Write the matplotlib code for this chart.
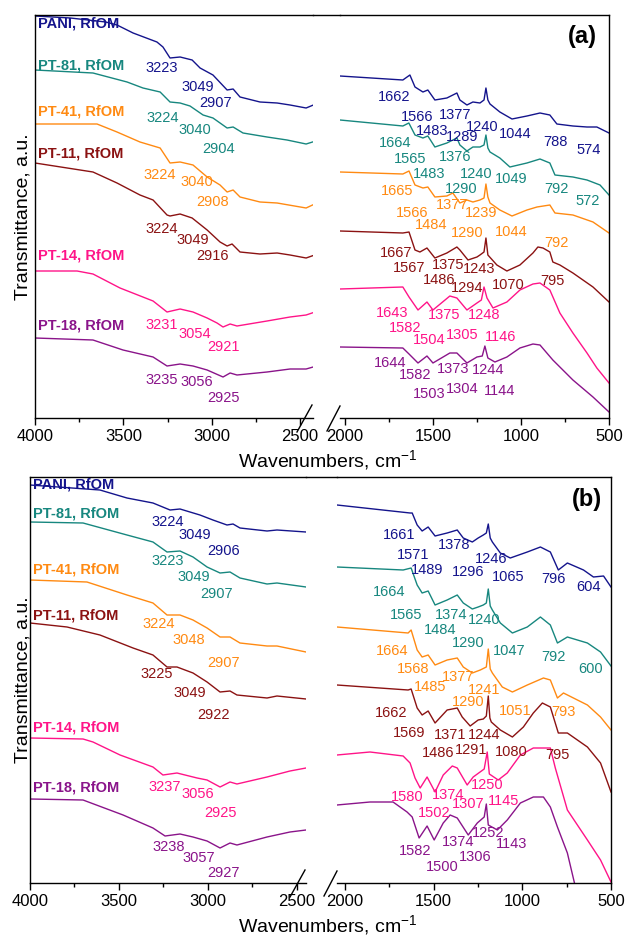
import matplotlib
matplotlib.use('Agg')
import matplotlib.pyplot as plt
from matplotlib.lines import Line2D
from matplotlib.ticker import MultipleLocator

plt.rcParams['font.family'] = ['Liberation Sans', 'DejaVu Sans']
plt.rcParams['mathtext.default'] = 'regular'

samples = ['PANI, RfOM', 'PT-81, RfOM', 'PT-41, RfOM', 'PT-11, RfOM', 'PT-14, RfOM', 'PT-18, RfOM']
colors = ['#14148c', '#17877f', '#ff8a12', '#8b1212', '#ff1488', '#8a148a']

# ---- (a) spectra: wavenumber (cm-1) and offset transmittance (a.u.)
wn_a_pani = [4000, 3800, 3600, 3536, 3445, 3310, 3276, 3236, 3179, 3111, 3066, 2993, 2913, 2879, 2840, 2727, 2630, 2557, 2466,
             2028, 1671, 1631, 1602, 1557, 1529, 1489, 1421, 1364, 1347, 1307, 1273, 1233, 1210, 1199, 1188, 1176, 1120, 1051, 966, 892, 836, 796, 705, 625, 569, 500]
t_a_pani = [402, 400, 396, 393, 385, 376, 371, 360, 361, 358, 350, 343, 328, 329, 321, 316, 315, 313, 310,
            342, 338, 343, 331, 326, 328, 318, 320, 325, 318, 313, 316, 315, 318, 330, 318, 314, 306, 299, 302, 305, 303, 294, 292, 291, 291, 285]

wn_a_81 = [4000, 3672, 3479, 3389, 3292, 3236, 3179, 3123, 3049, 2993, 2913, 2879, 2823, 2687, 2574, 2466,
           2028, 1671, 1637, 1602, 1557, 1529, 1489, 1421, 1364, 1347, 1307, 1273, 1233, 1210, 1199, 1188, 1176, 1120, 1063, 966, 892, 836, 807, 705, 625, 551, 500]
t_a_81 = [348, 345, 336, 330, 326, 316, 315, 312, 303, 300, 290, 291, 285, 281, 278, 274,
          298, 292, 295, 283, 280, 282, 271, 275, 280, 273, 267, 271, 271, 273, 283, 270, 266, 260, 251, 255, 259, 255, 243, 241, 238, 233, 223]

wn_a_41 = [4000, 3649, 3536, 3406, 3292, 3236, 3179, 3106, 3026, 2953, 2913, 2879, 2840, 2727, 2630, 2466,
           2028, 1671, 1636, 1602, 1557, 1529, 1489, 1421, 1387, 1347, 1307, 1273, 1233, 1210, 1199, 1188, 1176, 1120, 1051, 966, 909, 836, 807, 705, 591, 500]
t_a_41 = [294, 294, 286, 276, 270, 255, 256, 253, 241, 233, 226, 228, 221, 216, 215, 210,
          246, 244, 247, 233, 230, 231, 221, 222, 225, 215, 218, 216, 218, 220, 234, 221, 215, 208, 202, 208, 211, 213, 205, 203, 196, 185]

wn_a_11 = [4000, 3672, 3536, 3406, 3332, 3253, 3236, 3179, 3111, 3026, 2953, 2913, 2885, 2840, 2727, 2630, 2557, 2466,
           2028, 1671, 1636, 1602, 1574, 1534, 1489, 1421, 1364, 1347, 1301, 1250, 1233, 1210, 1199, 1188, 1137, 1080, 1006, 932, 904, 875, 836, 819, 779, 705, 591, 500]
t_a_11 = [255, 246, 235, 223, 218, 203, 202, 204, 200, 188, 176, 172, 174, 166, 164, 165, 163, 160,
          187, 185, 186, 168, 166, 170, 160, 165, 171, 168, 158, 161, 163, 166, 180, 163, 153, 147, 153, 165, 171, 170, 166, 156, 153, 145, 131, 116]

wn_a_14 = [4000, 3762, 3672, 3519, 3332, 3253, 3179, 3106, 3026, 2970, 2936, 2896, 2857, 2687, 2557, 2466,
           2028, 1671, 1636, 1585, 1534, 1500, 1404, 1364, 1307, 1250, 1225, 1210, 1193, 1159, 1080, 1006, 932, 892, 836, 779, 705, 625, 569, 500]
t_a_14 = [147, 147, 144, 130, 117, 106, 109, 106, 100, 95, 91, 94, 92, 97, 101, 103,
          129, 131, 121, 108, 116, 108, 122, 120, 108, 115, 118, 131, 120, 110, 116, 128, 134, 135, 128, 105, 85, 65, 50, 35]

wn_a_18 = [4000, 3672, 3502, 3332, 3253, 3179, 3106, 3026, 2936, 2896, 2857, 2687, 2557, 2466,
           2028, 1671, 1636, 1585, 1534, 1500, 1404, 1364, 1307, 1250, 1220, 1205, 1188, 1148, 1080, 1006, 932, 892, 819, 705, 591, 500]
t_a_18 = [80, 78, 68, 61, 52, 54, 52, 48, 41, 45, 43, 46, 49, 49,
          71, 70, 64, 55, 62, 55, 65, 65, 55, 61, 62, 72, 60, 56, 61, 70, 74, 73, 58, 38, 21, 6]

# ---- (b) spectra
wn_b_pani = [4000, 3607, 3455, 3309, 3213, 3157, 3045, 2972, 2893, 2859, 2820, 2668, 2612, 2449,
             2045, 1633, 1621, 1593, 1565, 1531, 1492, 1424, 1367, 1333, 1282, 1249, 1220, 1203, 1192, 1181, 1169, 1124, 1068, 972, 898, 842, 797, 746, 655, 599, 542, 500]
t_b_pani = [398, 393, 385, 380, 373, 374, 368, 363, 358, 359, 355, 352, 353, 351,
            378, 370, 370, 358, 352, 356, 347, 350, 353, 345, 341, 345, 348, 350, 359, 345, 341, 330, 325, 331, 336, 331, 313, 320, 313, 306, 307, 296]

wn_b_81 = [4000, 3702, 3455, 3309, 3230, 3157, 3084, 3005, 2932, 2876, 2820, 2668, 2612, 2449,
           2045, 1672, 1627, 1593, 1565, 1531, 1492, 1424, 1367, 1333, 1282, 1249, 1220, 1203, 1192, 1181, 1169, 1124, 1056, 972, 898, 842, 802, 746, 633, 559, 500]
t_b_81 = [361, 360, 348, 341, 331, 332, 326, 316, 310, 311, 305, 299, 300, 296,
          316, 313, 315, 298, 290, 292, 278, 283, 288, 280, 274, 276, 278, 280, 294, 277, 273, 260, 250, 256, 266, 258, 240, 246, 240, 231, 217]

wn_b_41 = [4000, 3680, 3455, 3309, 3230, 3157, 3084, 3005, 2932, 2876, 2820, 2668, 2612, 2449,
           2045, 1644, 1627, 1593, 1565, 1531, 1492, 1424, 1367, 1333, 1282, 1237, 1203, 1192, 1181, 1169, 1113, 1056, 972, 881, 842, 802, 768, 633, 559, 500]
t_b_41 = [303, 301, 288, 280, 268, 268, 263, 255, 246, 246, 240, 237, 237, 231,
          256, 250, 253, 233, 226, 228, 218, 223, 225, 216, 210, 213, 216, 234, 214, 210, 196, 191, 198, 205, 203, 185, 190, 178, 166, 153]

wn_b_11 = [4000, 3792, 3607, 3421, 3309, 3230, 3174, 3084, 3005, 2932, 2876, 2837, 2668, 2612, 2449,
           2045, 1644, 1627, 1593, 1565, 1531, 1492, 1424, 1367, 1339, 1294, 1249, 1220, 1203, 1192, 1183, 1175, 1124, 1056, 994, 938, 887, 842, 797, 746, 633, 559, 500]
t_b_11 = [260, 256, 248, 235, 228, 216, 216, 210, 201, 191, 192, 188, 185, 187, 184,
          198, 193, 194, 175, 168, 172, 160, 173, 175, 166, 157, 163, 164, 167, 187, 165, 161, 153, 146, 156, 170, 180, 176, 150, 150, 136, 120, 91]

wn_b_14 = [4000, 3702, 3646, 3494, 3309, 3253, 3174, 3061, 3005, 2932, 2876, 2837, 2668, 2539, 2449,
           2045, 1859, 1672, 1633, 1605, 1576, 1537, 1492, 1446, 1395, 1367, 1311, 1277, 1215, 1198, 1186, 1136, 1085, 1011, 938, 842, 814, 746, 633, 559, 500]
t_b_14 = [145, 144, 141, 128, 116, 108, 110, 105, 103, 96, 101, 99, 106, 112, 115,
          128, 131, 127, 120, 105, 95, 106, 91, 108, 117, 115, 98, 106, 114, 131, 109, 103, 110, 128, 135, 135, 115, 73, 43, 23, 1]

wn_b_18 = [4000, 3702, 3477, 3309, 3241, 3157, 3084, 3005, 2932, 2876, 2837, 2668, 2539, 2449,
           2045, 1859, 1729, 1650, 1621, 1582, 1537, 1497, 1446, 1407, 1367, 1305, 1254, 1215, 1203, 1192, 1141, 1085, 1011, 938, 881, 842, 802, 746, 706]
t_b_18 = [84, 83, 68, 55, 47, 49, 46, 42, 35, 40, 38, 46, 51, 53,
          78, 81, 81, 71, 66, 45, 57, 43, 60, 68, 65, 48, 60, 66, 79, 58, 53, 63, 80, 86, 86, 76, 56, 30, 0]

# name label heights and peak assignments (sample index, text, wavenumber, height)
names_y_a = [395, 352, 306, 264, 163, 93]
names_y_b = [398, 370, 313, 268, 155, 95]

peaks_a = [
    (0, '3223', 3281, 350), (0, '3049', 3077, 331), (0, '2907', 2976, 315), (0, '1662', 1722, 321),
    (0, '1566', 1591, 301), (0, '1377', 1375, 303), (0, '1483', 1506, 287), (0, '1289', 1335, 281),
    (0, '1240', 1222, 291), (0, '1044', 1034, 284), (0, '788', 807, 276), (0, '574', 614, 268),
    (1, '3224', 3276, 300), (1, '3040', 3094, 288), (1, '2904', 2964, 269), (1, '1664', 1716, 275),
    (1, '1565', 1631, 259), (1, '1376', 1375, 261), (1, '1483', 1523, 244), (1, '1240', 1256, 244),
    (1, '1290', 1341, 229), (1, '1049', 1057, 239), (1, '792', 796, 229), (1, '572', 620, 217),
    (2, '3224', 3292, 243), (2, '3040', 3083, 236), (2, '2908', 2993, 216), (2, '1665', 1705, 227),
    (2, '1566', 1619, 205), (2, '1377', 1392, 213), (2, '1239', 1228, 205), (2, '1484', 1512, 193),
    (2, '1290', 1307, 185), (2, '1044', 1057, 186), (2, '792', 801, 175),
    (3, '3224', 3281, 189), (3, '3049', 3106, 178), (3, '2916', 2993, 162), (3, '1667', 1710, 165),
    (3, '1567', 1636, 150), (3, '1375', 1415, 153), (3, '1243', 1239, 149), (3, '1486', 1466, 138),
    (3, '1294', 1307, 130), (3, '1070', 1074, 133), (3, '795', 819, 137),
    (4, '3231', 3281, 93), (4, '3054', 3094, 84), (4, '2921', 2936, 71), (4, '1643', 1733, 105),
    (4, '1582', 1659, 90), (4, '1375', 1438, 103), (4, '1248', 1210, 103), (4, '1504', 1523, 78),
    (4, '1305', 1335, 83), (4, '1146', 1114, 81),
    (5, '3235', 3281, 38), (5, '3056', 3083, 36), (5, '2925', 2936, 20), (5, '1644', 1744, 55),
    (5, '1582', 1602, 43), (5, '1373', 1387, 49), (5, '1244', 1188, 48), (5, '1503', 1523, 24),
    (5, '1304', 1335, 29), (5, '1144', 1120, 27),
]

peaks_b = [
    (0, '3224', 3224, 361), (0, '3049', 3073, 348), (0, '2906', 2915, 332), (0, '1661', 1695, 348),
    (0, '1571', 1616, 328), (0, '1378', 1384, 338), (0, '1489', 1537, 313), (0, '1296', 1305, 311),
    (0, '1246', 1175, 324), (0, '1065', 1079, 306), (0, '796', 825, 304), (0, '604', 627, 296),
    (1, '3223', 3224, 322), (1, '3049', 3078, 306), (1, '2907', 2949, 289), (1, '1664', 1751, 291),
    (1, '1565', 1655, 268), (1, '1374', 1401, 268), (1, '1240', 1215, 263), (1, '1484', 1463, 253),
    (1, '1290', 1305, 240), (1, '1047', 1073, 232), (1, '792', 825, 226), (1, '600', 616, 214),
    (2, '3224', 3275, 259), (2, '3048', 3106, 243), (2, '2907', 2915, 220), (2, '1664', 1734, 232),
    (2, '1568', 1616, 214), (2, '1377', 1362, 206), (2, '1485', 1520, 196), (2, '1241', 1215, 193),
    (2, '1290', 1305, 181), (2, '1051', 1040, 172), (2, '793', 768, 171),
    (3, '3225', 3286, 209), (3, '3049', 3101, 190), (3, '2922', 2966, 168), (3, '1662', 1740, 170),
    (3, '1569', 1638, 150), (3, '1371', 1407, 148), (3, '1244', 1215, 148), (3, '1486', 1475, 130),
    (3, '1291', 1288, 133), (3, '1080', 1062, 131), (3, '795', 802, 128),
    (4, '3237', 3241, 96), (4, '3056', 3056, 89), (4, '2925', 2932, 70), (4, '1580', 1650, 86),
    (4, '1374', 1418, 88), (4, '1250', 1198, 98), (4, '1502', 1497, 70), (4, '1307', 1305, 79),
    (4, '1145', 1107, 82),
    (5, '3238', 3219, 36), (5, '3057', 3050, 25), (5, '2927', 2915, 10), (5, '1582', 1605, 32),
    (5, '1374', 1362, 41), (5, '1252', 1192, 50), (5, '1143', 1062, 39), (5, '1500', 1452, 16),
    (5, '1306', 1265, 26),
]

spectra_a = [(wn_a_pani, t_a_pani), (wn_a_81, t_a_81), (wn_a_41, t_a_41),
             (wn_a_11, t_a_11), (wn_a_14, t_a_14), (wn_a_18, t_a_18)]
spectra_b = [(wn_b_pani, t_b_pani), (wn_b_81, t_b_81), (wn_b_41, t_b_41),
             (wn_b_11, t_b_11), (wn_b_14, t_b_14), (wn_b_18, t_b_18)]

fig = plt.figure(figsize=(6.25, 9.36), dpi=100)
W, H = 625.0, 936.0


def panel(rect_l, rect_r, lim_l, lim_r, ymax, spectra, names_y, peaks, tag, tag_pos, xlab_y):
    axl = fig.add_axes(rect_l)
    axr = fig.add_axes(rect_r)
    for ax, lim in ((axl, lim_l), (axr, lim_r)):
        for (wn, t), c in zip(spectra, colors):
            ax.plot(wn, t, color=c, lw=1.0)
        ax.set_xlim(*lim)
        ax.set_ylim(0, ymax)
        ax.set_yticks([])
        ax.xaxis.set_major_locator(MultipleLocator(500))
        ax.xaxis.set_minor_locator(MultipleLocator(250))
        ax.tick_params(axis='x', which='major', direction='out', length=5, width=1, labelsize=12, pad=3)
        ax.tick_params(axis='x', which='minor', direction='out', length=3, width=1)
        for s in ax.spines.values():
            s.set_linewidth(1.0)
    axl.spines['right'].set_visible(False)
    axr.spines['left'].set_visible(False)

    # top frame continues across the gap; slashes mark the break on the bottom axis
    x_end = rect_l[0] + rect_l[2]
    x_start = rect_r[0]
    y_top = rect_l[1] + rect_l[3]
    y_bot = rect_l[1]
    fig.add_artist(Line2D([x_end, x_start], [y_top, y_top], color='k', lw=1.0))
    fig.add_artist(Line2D([x_end - 16 / W, x_end - 1 / W], [y_bot - 14 / H, y_bot + 13 / H], color='k', lw=1.0))
    fig.add_artist(Line2D([x_start - 13 / W, x_start], [y_bot - 13 / H, y_bot + 12 / H], color='k', lw=1.0))

    for name, y, c in zip(samples, names_y, colors):
        axl.text(3985, y, name, color=c, fontsize=10.5, fontweight='bold', ha='left', va='center')
    for i, txt, x, y in peaks:
        ax = axl if x > 2200 else axr
        ax.text(x, y, txt, color=colors[i], fontsize=10.5, ha='center', va='center')

    axr.text(tag_pos[0], tag_pos[1], tag, fontsize=17, fontweight='bold', ha='center', va='center')

    fig.text(23 / W, y_bot + rect_l[3] / 2, 'Transmittance, a.u.', rotation=90,
             fontsize=14, ha='center', va='center')
    fig.text(328 / W, xlab_y, 'Wavenumbers, cm$^{-1}$', fontsize=14, ha='center', va='baseline')


panel([35 / W, 1 - 418 / H, 278 / W, 403 / H], [340 / W, 1 - 418 / H, 269 / W, 403 / H],
      (4000, 2427), (2028, 500), 403, spectra_a, names_y_a, peaks_a, '(a)', (654, 381), 1 - 467 / H)
panel([30 / W, 1 - 883 / H, 276 / W, 406 / H], [337 / W, 1 - 883 / H, 274 / W, 406 / H],
      (4000, 2449), (2045, 500), 406, spectra_b, names_y_b, peaks_b, '(b)', (633, 383), 1 - 932 / H)

fig.savefig('out.png', dpi=100)
